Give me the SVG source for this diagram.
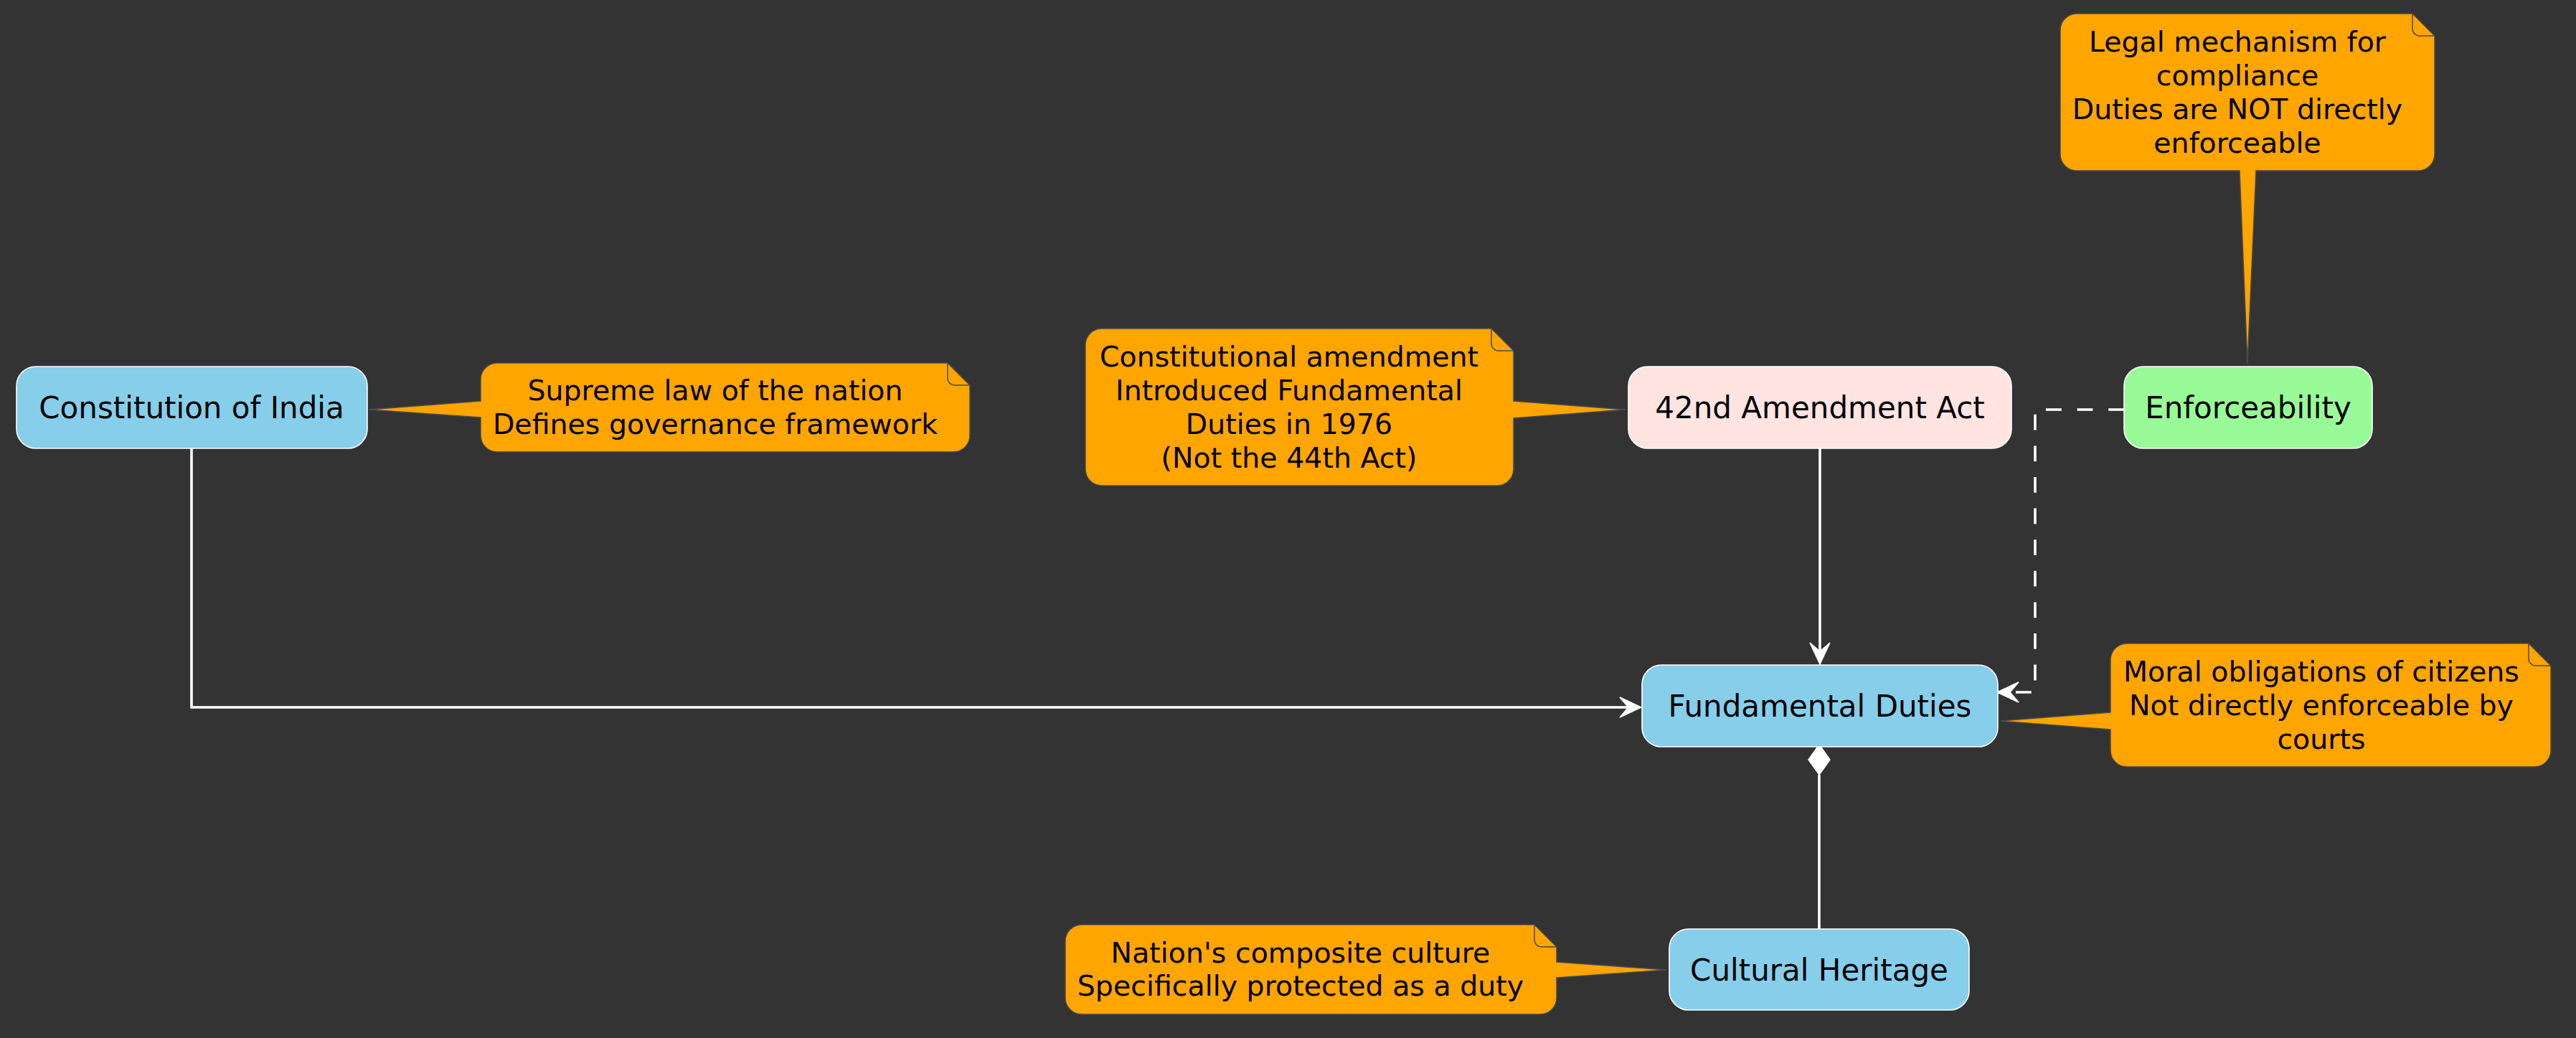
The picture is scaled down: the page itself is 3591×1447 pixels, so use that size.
<svg xmlns="http://www.w3.org/2000/svg" width="3591" height="1447" viewBox="0 0 3591 1447">
<style>
.node rect{stroke:#FFFFFF;stroke-width:1.6}
.node text{font-family:"DejaVu Sans","Liberation Sans",sans-serif;font-size:42px;fill:#000000;text-anchor:middle}
.note path.body{fill:#FFA500;stroke:#4A4A4A;stroke-width:1.5}
.note path.fold{fill:none;stroke:#4A4A4A;stroke-width:1.5}
.note text{font-family:"DejaVu Sans","Liberation Sans",sans-serif;font-size:39.5px;fill:#000000;text-anchor:middle}
.edge{fill:none;stroke:#FFFFFF;stroke-width:3.6}
.dash{stroke-dasharray:21.8 21.8}
.head{fill:#FFFFFF;stroke:#FFFFFF;stroke-width:1.5;stroke-linejoin:miter}
</style>
<rect x="0" y="0" width="3591" height="1447" fill="#333333"/>

<g id="connectors">
  <path class="edge" d="M 267,625 V 986 H 2272"/>
  <polygon class="head" points="2288,986 2258,972 2270,986 2258,1000"/>
  <path class="edge" d="M 2537,625 V 910"/>
  <polygon class="head" points="2537,926 2523,896 2537,908 2551,896"/>
  <path class="edge dash" d="M 2961,571 H 2837 V 965 H 2800"/>
  <polygon class="head" points="2784,965 2814,951 2802,965 2814,979"/>
  <path class="edge" d="M 2536,1295 V 1080"/>
  <polygon class="head" points="2536,1038 2551,1059 2536,1080 2521,1059"/>
</g>

<g id="node-constitution" class="node">
  <rect x="23" y="511" width="489" height="114" rx="27" ry="27" fill="#87CEEB"/>
  <text x="267" y="583">Constitution of India</text>
</g>
<g id="node-42nd" class="node">
  <rect x="2270" y="511" width="534" height="114" rx="27" ry="27" fill="#FFE4E1"/>
  <text x="2537" y="583">42nd Amendment Act</text>
</g>
<g id="node-enforceability" class="node">
  <rect x="2961" y="511" width="346" height="114" rx="27" ry="27" fill="#98FB98"/>
  <text x="3134" y="583">Enforceability</text>
</g>
<g id="node-fundamental" class="node">
  <rect x="2289" y="927" width="496" height="114" rx="27" ry="27" fill="#87CEEB"/>
  <text x="2537" y="999">Fundamental Duties</text>
</g>
<g id="node-cultural" class="node">
  <rect x="2327" y="1295" width="418" height="113" rx="27" ry="27" fill="#87CEEB"/>
  <text x="2536" y="1367">Cultural Heritage</text>
</g>

<g id="note-constitution" class="note">
  <path class="body" d="M 693,506 H 1321 L 1352,537 V 607 A 23 23 0 0 1 1329,630 H 693 A 23 23 0 0 1 670,607 V 582 L 514,571 L 670,559 V 529 A 23 23 0 0 1 693,506 Z"/>
  <path class="fold" d="M 1321,506 V 527 A 10 10 0 0 0 1331,537 H 1352"/>
  <text x="997" y="558">Supreme law of the nation</text>
  <text x="997" y="605">Defines governance framework</text>
</g>
<g id="note-42nd" class="note">
  <path class="body" d="M 1536,458 H 2079 L 2110,489 V 559 L 2266,571 L 2110,583 V 654 A 23 23 0 0 1 2087,677 H 1536 A 23 23 0 0 1 1513,654 V 481 A 23 23 0 0 1 1536,458 Z"/>
  <path class="fold" d="M 2079,458 V 479 A 10 10 0 0 0 2089,489 H 2110"/>
  <text x="1797" y="511">Constitutional amendment</text>
  <text x="1797" y="558">Introduced Fundamental</text>
  <text x="1797" y="605">Duties in 1976</text>
  <text x="1797" y="652">(Not the 44th Act)</text>
</g>
<g id="note-enforceability" class="note">
  <path class="body" d="M 2895,19 H 3363 L 3394,50 V 215 A 23 23 0 0 1 3371,238 H 3145 L 3133,507 L 3122,238 H 2895 A 23 23 0 0 1 2872,215 V 42 A 23 23 0 0 1 2895,19 Z"/>
  <path class="fold" d="M 3363,19 V 40 A 10 10 0 0 0 3373,50 H 3394"/>
  <text x="3119" y="72">Legal mechanism for</text>
  <text x="3119" y="119">compliance</text>
  <text x="3119" y="166">Duties are NOT directly</text>
  <text x="3119" y="213">enforceable</text>
</g>
<g id="note-fundamental" class="note">
  <path class="body" d="M 2965,897 H 3525 L 3556,928 V 1046 A 23 23 0 0 1 3533,1069 H 2965 A 23 23 0 0 1 2942,1046 V 1017 L 2789,1005 L 2942,993 V 920 A 23 23 0 0 1 2965,897 Z"/>
  <path class="fold" d="M 3525,897 V 918 A 10 10 0 0 0 3535,928 H 3556"/>
  <text x="3236" y="950">Moral obligations of citizens</text>
  <text x="3236" y="997">Not directly enforceable by</text>
  <text x="3236" y="1044">courts</text>
</g>
<g id="note-cultural" class="note">
  <path class="body" d="M 1508,1289 H 2139 L 2170,1320 V 1341 L 2323,1352 L 2170,1363 V 1391 A 23 23 0 0 1 2147,1414 H 1508 A 23 23 0 0 1 1485,1391 V 1312 A 23 23 0 0 1 1508,1289 Z"/>
  <path class="fold" d="M 2139,1289 V 1310 A 10 10 0 0 0 2149,1320 H 2170"/>
  <text x="1813" y="1342">Nation's composite culture</text>
  <text x="1813" y="1388">Specifically protected as a duty</text>
</g>
</svg>
